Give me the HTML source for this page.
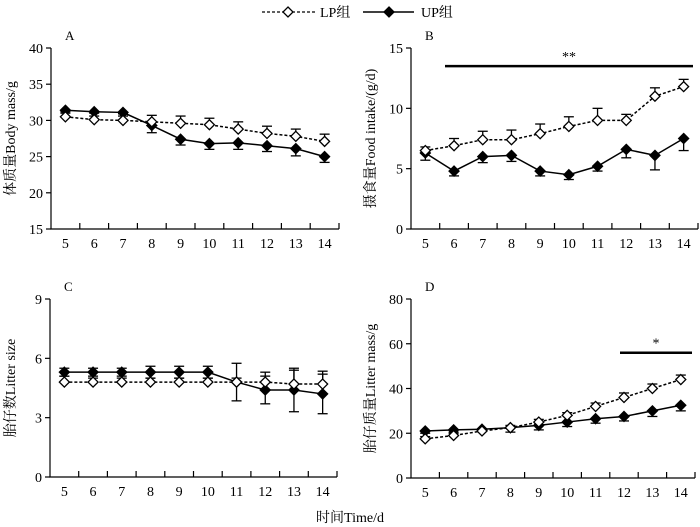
<!DOCTYPE html>
<html><head><meta charset="utf-8">
<style>
html,body{margin:0;padding:0;background:#fff;}
svg{display:block;font-family:"Liberation Serif","Noto Serif CJK SC",serif;}
</style></head>
<body>
<svg id="chart" width="700" height="527" xmlns="http://www.w3.org/2000/svg"></svg>
<script>
const days = [5,6,7,8,9,10,11,12,13,14];
const aLP = [30.5,30.1,30.0,29.8,29.6,29.4,28.8,28.2,27.8,27.1];
const aLPerr = [0.5,0.5,0.6,0.9,1.0,0.9,1.0,1.0,1.0,1.0];
const aUP = [31.4,31.2,31.1,29.3,27.4,26.8,26.9,26.5,26.1,25.0];
const aUPerr = [0.2,0.2,0.2,1.0,0.8,0.8,0.9,0.8,1.0,0.8];
const bLP = [6.5,6.9,7.4,7.4,7.9,8.5,9.0,9.0,11.0,11.8];
const bLPerr = [0.3,0.6,0.7,0.8,0.8,0.8,1.0,0.5,0.7,0.6];
const bUP = [6.3,4.8,6.0,6.1,4.8,4.5,5.2,6.6,6.1,7.5];
const bUPerr = [0.6,0.4,0.5,0.5,0.4,0.4,0.4,0.7,1.2,1.0];
const cLP = [4.8,4.8,4.8,4.8,4.8,4.8,4.8,4.8,4.7,4.7];
const cLPerr = [0.3,0.2,0.2,0.2,0.2,0.2,0.2,0.5,0.7,0.65];
const cUP = [5.3,5.3,5.3,5.3,5.3,5.3,4.8,4.4,4.4,4.2];
const cUPerr = [0.2,0.2,0.2,0.3,0.3,0.3,0.95,0.7,1.1,1.0];
const dLP = [17.5,19,21,22.5,25,28,32,36,40,44];
const dLPerr = [1,1,1,1,1.2,1.2,1.5,2,2,2];
const dUP = [21,21.5,21.8,22.5,23.5,25,26.5,27.5,30,32.5];
const dUPerr = [1,1,1,2,2,2,2,2,2.5,2.5];
const aTicks = [15,20,25,30,35,40];
const bTicks = [0,5,10,15];
const cTicks = [0,3,6,9];
const dTicks = [0,20,40,60,80];

const NS="http://www.w3.org/2000/svg";
const svg=document.getElementById('chart');
function mk(tag,attrs,parent){const e=document.createElementNS(NS,tag);for(const k in attrs)e.setAttribute(k,attrs[k]);(parent||svg).appendChild(e);return e;}

function diamond(g,x,y,filled){
  const p=mk('polygon',{points:`${x},${y-5} ${x+5},${y} ${x},${y+5} ${x-5},${y}`,fill:filled?'#000':'#fff',stroke:'#000','stroke-width':1.3},g);
  return p;
}

function panel(cfg){
  const g=mk('g',{});
  
  
  const {x0,x1,yTop,yBot,min,max}=cfg;
  const bw=(x1-x0)/days.length;
  const X=i=>x0+bw*(i+0.5);
  const Y=v=>yBot-(v-min)/(max-min)*(yBot-yTop);
  // axes
  const ax=mk('path',{d:`M${x0},${yTop} V${yBot} H${x1}`,fill:'none',stroke:'#000','stroke-width':1.2},g);
  
  
  cfg.ticks.forEach(t=>{
    mk('line',{x1:x0-5,x2:x0,y1:Y(t),y2:Y(t),stroke:'#000','stroke-width':1.2},g);
    const tx=mk('text',{x:x0-8,y:Y(t)+5,'text-anchor':'end','font-size':14},g);
    tx.textContent=t;
    
    
  });
  for(let i=1;i<=days.length;i++){
    const xx=x0+bw*i;
    mk('line',{x1:xx,x2:xx,y1:yBot,y2:yBot-6,stroke:'#000','stroke-width':1.2},g);
  }
  days.forEach((d,i)=>{
    const tx=mk('text',{x:X(i),y:yBot+19,'text-anchor':'middle','font-size':14},g);
    tx.textContent=d;
    
    
  });
  const lab=mk('text',{x:x0+14,y:yTop-8,'font-size':13},g);
  lab.textContent=cfg.id;
  
  
  const yt=mk('text',{x:0,y:0,'text-anchor':'middle','font-size':14,transform:`translate(${cfg.ytx},${(yTop+yBot)/2}) rotate(-90)`},g);
  yt.textContent=cfg.ytitle;
  
  
  // series
  const series=[
    {v:cfg.up,e:cfg.upErr,filled:true,dash:null,dir:cfg.upDir,name:'up'},
    {v:cfg.lp,e:cfg.lpErr,filled:false,dash:'3,2',dir:1,name:'lp'}
  ];
  series.forEach(s=>{
    const sg=mk('g',{},g);
    
    
    s.v.forEach((v,i)=>{
      const x=X(i),hi=Y(v+s.e[i]),lo=Y(v-s.e[i]);
      let y1=s.dir>=0?hi:Y(v), y2=s.dir<=0?lo:Y(v);
      if(s.dir===0){y1=hi;y2=lo;}
      mk('line',{x1:x,x2:x,y1:y1,y2:y2,stroke:'#000','stroke-width':1.3},sg);
      if(s.dir>=0||s.dir===0) mk('line',{x1:x-5,x2:x+5,y1:hi,y2:hi,stroke:'#000','stroke-width':1.3},sg);
      if(s.dir<=0||s.dir===0) mk('line',{x1:x-5,x2:x+5,y1:lo,y2:lo,stroke:'#000','stroke-width':1.3},sg);
    });
    const d=s.v.map((v,i)=>(i?'L':'M')+X(i)+','+Y(v)).join(' ');
    const ln=mk('path',{d:d,fill:'none',stroke:'#000','stroke-width':1.5},sg);
    if(s.dash)ln.setAttribute('stroke-dasharray',s.dash);
    
    
    s.v.forEach((v,i)=>{
      const p=diamond(sg,X(i),Y(v),s.filled);
      
      
    });
  });
  if(cfg.sig){
    const sb=mk('line',{x1:cfg.sig.xa,x2:cfg.sig.xb,y1:Y(cfg.sig.v),y2:Y(cfg.sig.v),stroke:'#000','stroke-width':2.5},g);
    
    
    const st=mk('text',{x:(cfg.sig.xa+cfg.sig.xb)/2,y:Y(cfg.sig.v)-5,'text-anchor':'middle','font-size':14},g);
    st.textContent=cfg.sig.t;
    
    
  }
}

panel({id:'A',x0:51,x1:339,yTop:48,yBot:229,min:15,max:40,ticks:aTicks,lp:aLP,lpErr:aLPerr,up:aUP,upErr:aUPerr,upDir:-1,ytx:15,ytitle:'体质量Body mass/g'});
panel({id:'B',x0:411,x1:698,yTop:48,yBot:229,min:0,max:15,ticks:bTicks,lp:bLP,lpErr:bLPerr,up:bUP,upErr:bUPerr,upDir:-1,ytx:375,ytitle:'摄食量Food intake/(g/d)',sig:{xa:445,xb:693,v:13.5,t:'**'}});
panel({id:'C',x0:50,x1:337,yTop:299,yBot:477,min:0,max:9,ticks:cTicks,lp:cLP,lpErr:cLPerr,up:cUP,upErr:cUPerr,upDir:0,ytx:15,ytitle:'胎仔数Litter size'});
panel({id:'D',x0:411,x1:695,yTop:299,yBot:478,min:0,max:80,ticks:dTicks,lp:dLP,lpErr:dLPerr,up:dUP,upErr:dUPerr,upDir:-1,ytx:375,ytitle:'胎仔质量Litter mass/g',sig:{xa:620,xb:692,v:56,t:'*'}});

// legend
const lg=mk('g',{});


const l1=mk('g',{},lg);


mk('line',{x1:262,x2:315,y1:12,y2:12,stroke:'#000','stroke-width':1.3,'stroke-dasharray':'3,2'},l1);
diamond(l1,288,12,false);
const t1=mk('text',{x:320,y:17,'font-size':14},l1);t1.textContent='LP组';
const l2=mk('g',{},lg);


mk('line',{x1:363,x2:414,y1:12,y2:12,stroke:'#000','stroke-width':1.5},l2);
diamond(l2,389,12,true);
const t2=mk('text',{x:421,y:17,'font-size':14},l2);t2.textContent='UP组';
const xt=mk('text',{x:350,y:522,'text-anchor':'middle','font-size':14});
xt.textContent='时间Time/d';


</script>
</body></html>
